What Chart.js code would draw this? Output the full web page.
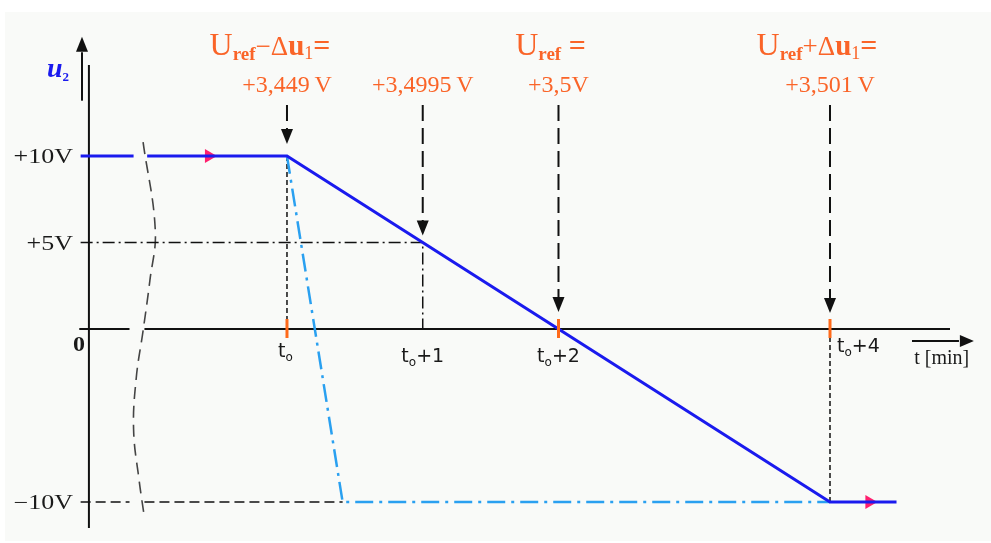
<!DOCTYPE html>
<html>
<head>
<meta charset="utf-8">
<title>u2 ramp</title>
<script src="https://cdn.jsdelivr.net/npm/chart.js@4.4.1/dist/chart.umd.min.js"></script>
<style>
  html, body { margin: 0; padding: 0; background: #fff; }
  #wrap { width: 991px; height: 543px; position: relative; }
</style>
</head>
<body>
<div id="wrap"><canvas id="rampChart"></canvas></div>
<script>
// time axis, minutes after t0
const timeTicks = [0, 1, 2, 4];
const timeTickText = ['', '+1', '+2', '+4'];
// voltage axis
const voltTicks = [10, 5, 0, -10];
const voltTickText = ['+10V', '+5V', '0', '\u221210V'];
// reference voltage written above each marked time
const refTimes = [0, 1, 2, 4];
const refValues = ['+3,449\u2009V', '+3,4995\u2009V', '+3,5V', '+3,501\u2009V'];
const refLevels = [10, 5, 0, 0];
// slow ramp of u2 (null = gap at the axis break)
const rampT = [-1.52, -1.13, null, -1.03, 0, 4, 4.49];
const rampU = [10, 10, null, 10, 10, -10, -10];
// fast fall (dash-dot)
const fastT = [0, 0.41, 4];
const fastU = [10, -10, -10];
// direction marks on the ramp
const dirT = [-0.575, 4.29];
const dirU = [10, -10];
// break symbol across the time axis
const breakT = [-1.06, -0.97, -1.01, -1.06, -1.11, -1.13, -1.09, -1.05];
const breakU = [10.8, 5.7, 2.8, -0.1, -2.8, -5.8, -8.7, -10.9];

const X_MIN = -2.114, X_MAX = 5.186;
const Y_MIN = -12.37, Y_MAX = 19.02;

const SERIF = '"Liberation Serif", "Times New Roman", serif';
const SANS = '"DejaVu Sans", sans-serif';
const ORANGE = '#fa6428';

const toPoints = (xs, ys) => xs.map((x, i) => ({ x: x, y: ys[i] }));

// draw a row of text pieces (sub/superscripts), optional horizontal stretch
function drawRuns(ctx, runs, x, y, align, sx) {
    sx = sx || 1;
    let w = 0;
    runs.forEach(r => { ctx.font = r.f; w += ctx.measureText(r.t).width; });
    let cx = align === 'center' ? -w / 2 : align === 'right' ? -w : 0;
    ctx.save();
    ctx.translate(x, y);
    ctx.scale(sx, 1);
    ctx.textAlign = 'left';
    ctx.textBaseline = 'alphabetic';
    runs.forEach(r => {
        ctx.font = r.f;
        ctx.fillText(r.t, cx, r.dy || 0);
        cx += ctx.measureText(r.t).width;
    });
    ctx.restore();
}

function line(ctx, x1, y1, x2, y2) {
    ctx.beginPath();
    ctx.moveTo(x1, y1);
    ctx.lineTo(x2, y2);
    ctx.stroke();
}

function head(ctx, x, y, dir, len, half) {
    // dir: 'up' | 'down' | 'right', tip at (x, y)
    ctx.beginPath();
    ctx.moveTo(x, y);
    if (dir === 'up') { ctx.lineTo(x - half, y + len); ctx.lineTo(x + half, y + len); }
    if (dir === 'down') { ctx.lineTo(x - half, y - len); ctx.lineTo(x + half, y - len); }
    if (dir === 'right') { ctx.lineTo(x - len, y - half); ctx.lineTo(x - len, y + half); }
    ctx.closePath();
    ctx.fill();
}

const headings = [
    [{ t: 'U', f: '32px ' + SERIF }, { t: 'ref', f: 'bold 19px ' + SERIF, dy: 5 },
     { t: '\u2212\u0394', f: '27px ' + SERIF }, { t: 'u', f: 'bold 29px ' + SERIF },
     { t: '1', f: '18px ' + SERIF, dy: 4 }, { t: '=', f: 'bold 30px ' + SERIF }],
    null,
    [{ t: 'U', f: '32px ' + SERIF }, { t: 'ref', f: 'bold 19px ' + SERIF, dy: 5 },
     { t: ' =', f: 'bold 30px ' + SERIF }],
    [{ t: 'U', f: '32px ' + SERIF }, { t: 'ref', f: 'bold 19px ' + SERIF, dy: 5 },
     { t: '+\u0394', f: '27px ' + SERIF }, { t: 'u', f: 'bold 29px ' + SERIF },
     { t: '1', f: '18px ' + SERIF, dy: 4 }, { t: '=', f: 'bold 30px ' + SERIF }]
];
const headingShift = [-17, 0, -8, -13];
const arrowGap = [12, 7, 17, 16];

const decor = {
    id: 'decor',
    beforeDraw(chart) {
        const ctx = chart.ctx;
        ctx.save();
        ctx.fillStyle = '#ffffff';
        ctx.fillRect(0, 0, chart.width, chart.height);
        ctx.fillStyle = '#f9faf8';
        ctx.fillRect(5, 12, chart.width - 5, chart.height - 14);
        ctx.restore();
    },
    beforeDatasetsDraw(chart) {
        const ctx = chart.ctx;
        const sx = chart.scales.x, sy = chart.scales.y;
        const px = v => sx.getPixelForValue(v), py = v => sy.getPixelForValue(v);
        ctx.save();
        ctx.strokeStyle = '#111';
        ctx.fillStyle = '#111';
        ctx.lineWidth = 2;
        // vertical axis and its arrow
        line(ctx, px(-1.459), py(15.26), px(-1.459), py(-11.5));
        line(ctx, px(-1.51), py(13.2), px(-1.51), py(16.0));
        head(ctx, px(-1.51), py(16.9), 'up', 15, 6);
        // time axis with break, and its arrow
        const y0 = py(0);
        line(ctx, px(-1.53), y0, px(-1.16), y0);
        line(ctx, px(-1.05), y0, px(4.884), y0);
        line(ctx, px(4.604), py(-0.69), px(4.95), py(-0.69));
        head(ctx, px(5.06), py(-0.69), 'right', 14, 6);
        ctx.restore();
    },
    afterDatasetsDraw(chart) {
        const ctx = chart.ctx;
        const sx = chart.scales.x, sy = chart.scales.y;
        const px = v => sx.getPixelForValue(v), py = v => sy.getPixelForValue(v);
        const y0 = py(0);
        ctx.save();

        // orange marks on the time axis
        ctx.strokeStyle = '#ff6a1a';
        ctx.lineWidth = 3;
        timeTicks.forEach(t => {
            if (t !== 1) line(ctx, px(t), y0 - 10, px(t), y0 + 9);
        });

        // dashed arrows from the reference values down to the curve
        ctx.strokeStyle = '#111';
        ctx.fillStyle = '#111';
        ctx.lineWidth = 2;
        refTimes.forEach((t, i) => {
            const x = px(t);
            const tip = py(refLevels[i]) - arrowGap[i];
            ctx.setLineDash([16, 7]);
            line(ctx, x, 105, x, tip - 12);
            ctx.setLineDash([]);
            head(ctx, x, tip, 'down', 15, 6);
        });

        // voltage labels
        ctx.fillStyle = '#1a1a1a';
        voltTicks.forEach((v, i) => {
            const f = '20px ' + SERIF;
            if (v === 0) {
                drawRuns(ctx, [{ t: voltTickText[i], f: 'bold ' + f }], px(-1.459) - 10, y0 + 22, 'center', 1.2);
            } else {
                drawRuns(ctx, [{ t: voltTickText[i], f: f }], px(-1.459) - 16, py(v) + 7, 'right', 1.3);
            }
        });

        // time labels
        timeTicks.forEach((t, i) => {
            const runs = [{ t: 't', f: '19px ' + SANS }, { t: 'o', f: '12px ' + SANS, dy: 4 },
                          { t: timeTickText[i], f: '19px ' + SANS }];
            if (t === 0) drawRuns(ctx, runs, px(t) - 9, y0 + 28, 'left');
            else if (t === 4) drawRuns(ctx, runs, px(t) + 7, y0 + 23, 'left');
            else drawRuns(ctx, runs, px(t), y0 + 33, 'center');
        });
        drawRuns(ctx, [{ t: 't [min]', f: '20px ' + SERIF }], px(4.62), y0 + 35, 'left');

        // u2 axis name
        ctx.fillStyle = '#1a1aee';
        drawRuns(ctx, [{ t: 'u', f: 'italic bold 28px ' + SERIF }, { t: '2', f: 'bold 13px ' + SERIF, dy: 4 }],
                 58, 77, 'center');

        // reference voltages
        ctx.fillStyle = ORANGE;
        refTimes.forEach((t, i) => {
            if (headings[i]) drawRuns(ctx, headings[i], px(t) + headingShift[i], 55, 'center');
            drawRuns(ctx, [{ t: refValues[i], f: '24px ' + SERIF }], px(t), 92, 'center');
        });
        ctx.restore();
    }
};

const ctx = document.getElementById('rampChart').getContext('2d');

const rampChart = new Chart(ctx, {
    type: 'line',
    data: {
        datasets: [
            {   // slow ramp of u2
                data: toPoints(rampT, rampU),
                borderColor: '#1a1aee',
                borderWidth: 3
            },
            {   // direction marks
                data: toPoints(dirT, dirU),
                showLine: false,
                pointStyle: 'triangle',
                rotation: 90,
                pointRadius: 8,
                pointBackgroundColor: '#ff1f6e',
                pointBorderWidth: 0
            },
            {   // fast fall
                data: toPoints(fastT, fastU),
                borderColor: '#2aa0f0',
                borderWidth: 2.5,
                borderDash: [18, 6, 3, 6]
            },
            {   // +5V guide
                data: toPoints([-1.52, timeTicks[1], timeTicks[1]], [voltTicks[1], voltTicks[1], 0]),
                borderColor: '#111',
                borderWidth: 1.5,
                borderDash: [12, 4, 2, 4]
            },
            {   // t0 guide
                data: toPoints([timeTicks[0], timeTicks[0]], [voltTicks[0], 0]),
                borderColor: '#111',
                borderWidth: 1.5,
                borderDash: [5, 3]
            },
            {   // t0+4 guide
                data: toPoints([timeTicks[3], timeTicks[3]], [0, voltTicks[3]]),
                borderColor: '#111',
                borderWidth: 1.5,
                borderDash: [5, 3]
            },
            {   // -10V guide
                data: toPoints([-1.52, -1.16, null, -1.05, fastT[1]], [-10, -10, null, -10, -10]),
                borderColor: '#111',
                borderWidth: 1.5,
                borderDash: [10, 5]
            },
            {   // axis break symbol
                data: toPoints(breakT, breakU),
                borderColor: '#444',
                borderWidth: 1.6,
                borderDash: [12, 7],
                tension: 0.4
            }
        ]
    },
    options: {
        responsive: true,
        maintainAspectRatio: false,
        animation: false,
        events: [],
        layout: { padding: 0, autoPadding: false },
        elements: { point: { radius: 0 }, line: { tension: 0 } },
        plugins: {
            legend: { display: false },
            tooltip: { enabled: false }
        },
        scales: {
            x: { type: 'linear', display: false, min: X_MIN, max: X_MAX },
            y: { type: 'linear', display: false, min: Y_MIN, max: Y_MAX }
        }
    },
    plugins: [decor]
});
</script>
</body>
</html>
